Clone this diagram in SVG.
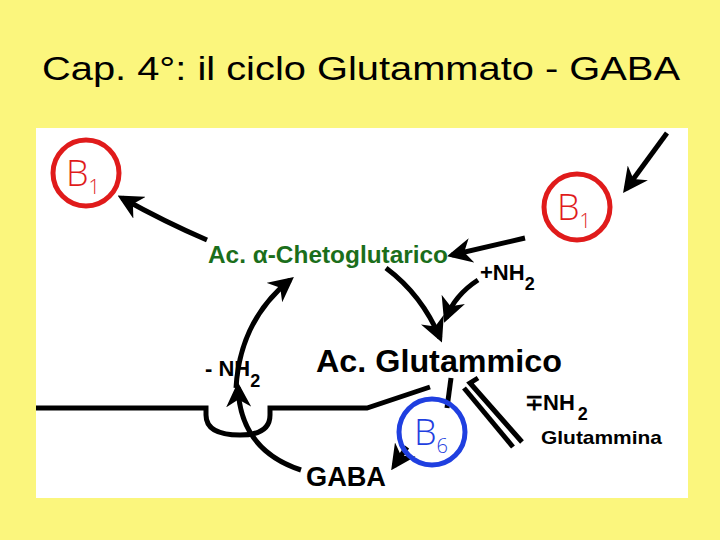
<svg xmlns="http://www.w3.org/2000/svg" width="720" height="540" viewBox="0 0 720 540">
<defs>
<marker id="ah" viewBox="0 0 10 10" refX="8" refY="5" markerWidth="5" markerHeight="5" orient="auto"><path d="M0,0 L10,5 L0,10 L3,5 Z" fill="#000"/></marker>
<style>
.ln{fill:none;stroke:#000;stroke-width:5}
.t{font-family:"Liberation Sans Narrow","Liberation Sans",sans-serif;font-weight:bold;fill:#000}
.rc{fill:none;stroke:#e01b1b;stroke-width:5}
.ct{font-family:"Open Sans",sans-serif;font-size:36px;font-weight:300}
</style>
</defs>
<rect width="720" height="540" fill="#fbf67d"/>
<text x="361" y="80" text-anchor="middle" font-family="Liberation Sans,sans-serif" font-size="34" textLength="638" lengthAdjust="spacingAndGlyphs">Cap. 4°: il ciclo Glutammato - GABA</text>
<rect x="36" y="128" width="652" height="370" fill="#fff"/>
<g id="connectors">
<path class="ln" d="M667,133 L626,189" marker-end="url(#ah)"/>
<path class="ln" d="M525,238 L452,255" marker-end="url(#ah)"/>
<path class="ln" d="M207,240 Q165,222 122,198" marker-end="url(#ah)"/>
<path class="ln" d="M386,268 Q422,295 440,338" marker-end="url(#ah)"/>
<path class="ln" d="M478,280 Q455,295 446,318" marker-end="url(#ah)"/>
<path class="ln" d="M236,388 Q240,320 290,280" marker-end="url(#ah)"/>
<path class="ln" d="M301,470 Q240,450 238,387" marker-end="url(#ah)"/>
<path class="ln" d="M36,408 L206,408 L206,415 Q206,435 240,435 Q270,435 270,415 L270,408 L367,408 L430,387"/>
<path class="ln" d="M451,378 L447,408"/>
<path class="ln" stroke-width="3.5" d="M464,388 L513,447"/>
<path class="ln" stroke-width="3.5" d="M478,378 L470,383 L522,442"/>
<path class="ln" d="M407,447 L394,466" marker-end="url(#ah)"/>
</g>
<g id="b1left"><circle class="rc" cx="86" cy="173" r="33"/><text x="66" y="186" class="ct" fill="#e01b1b">B<tspan font-size="20" dy="8">1</tspan></text></g>
<g id="b1right"><circle class="rc" cx="577" cy="207" r="33"/><text x="557" y="220" class="ct" fill="#e01b1b">B<tspan font-size="20" dy="8">1</tspan></text></g>
<g id="b6"><circle cx="432" cy="432" r="33" fill="none" stroke="#1f3fe0" stroke-width="5"/><text x="414" y="445" class="ct" fill="#1f3fe0">B<tspan font-size="20" dy="8">6</tspan></text></g>
<g id="cheto"><text x="208" y="263" class="t" font-size="23" style="fill:#1b6e1b" textLength="240" lengthAdjust="spacingAndGlyphs">Ac. α-Chetoglutarico</text></g>
<g id="glut"><text x="316" y="372" class="t" font-size="32" textLength="246" lengthAdjust="spacingAndGlyphs">Ac. Glutammico</text></g>
<g id="nh2plus"><text x="480" y="280" class="t" font-size="22">+NH<tspan font-size="18" dy="10">2</tspan></text></g>
<g id="nh2minus"><text x="205" y="376" class="t" font-size="22">- NH<tspan font-size="18" dy="11">2</tspan></text></g>
<g id="nh2eq"><text x="525" y="410" class="t" font-size="22">∓NH<tspan font-size="18" dx="3" dy="10">2</tspan></text></g>
<g id="glutammina"><text x="541" y="444" class="t" font-size="19" textLength="121" lengthAdjust="spacingAndGlyphs">Glutammina</text></g>
<g id="gaba"><text x="306" y="486" class="t" font-size="28" textLength="80" lengthAdjust="spacingAndGlyphs">GABA</text></g>
</svg>
